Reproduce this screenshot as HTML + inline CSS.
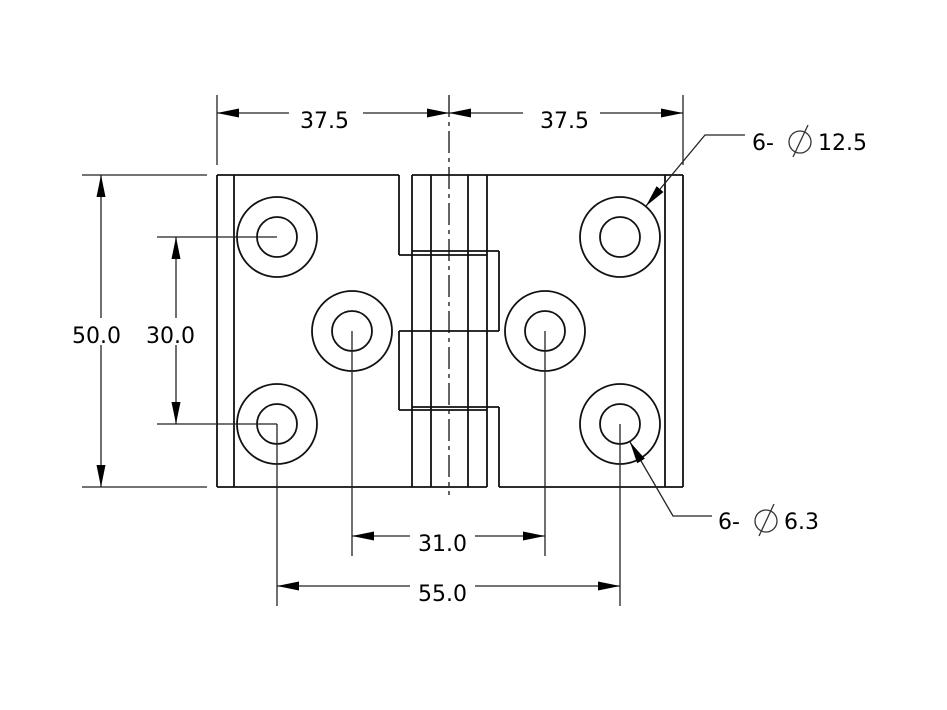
<!DOCTYPE html>
<html><head><meta charset="utf-8"><style>
html,body{margin:0;padding:0;background:#fff;}
svg{display:block;}
text{font-family:"DejaVu Sans","Liberation Sans",sans-serif;font-size:22px;fill:#000;}
</style></head><body>
<svg width="947" height="710" viewBox="0 0 947 710" xmlns="http://www.w3.org/2000/svg">
<defs>
<marker id="a" viewBox="0 0 22 9" refX="22" refY="4.5" markerWidth="22" markerHeight="9" markerUnits="userSpaceOnUse" orient="auto-start-reverse"><path d="M0,0 L22,4.5 L0,9 Z" fill="#000"/></marker>
</defs>
<g stroke="#111" stroke-width="1.8" fill="none">
<line x1="217" y1="175" x2="217" y2="487"/>
<line x1="234" y1="175" x2="234" y2="487"/>
<line x1="217" y1="175" x2="399" y2="175"/>
<line x1="412" y1="175" x2="683" y2="175"/>
<line x1="217" y1="487" x2="487" y2="487"/>
<line x1="499" y1="487" x2="683" y2="487"/>
<line x1="665" y1="175" x2="665" y2="487"/>
<line x1="683" y1="175" x2="683" y2="487"/>
<line x1="399" y1="175" x2="399" y2="255"/>
<line x1="399" y1="331" x2="399" y2="410"/>
<line x1="412" y1="175" x2="412" y2="487"/>
<line x1="431" y1="175" x2="431" y2="487"/>
<line x1="468" y1="175" x2="468" y2="487"/>
<line x1="487" y1="175" x2="487" y2="487"/>
<line x1="499" y1="251" x2="499" y2="331"/>
<line x1="499" y1="407" x2="499" y2="487"/>
<line x1="412" y1="251" x2="499" y2="251"/>
<line x1="399" y1="255" x2="487" y2="255"/>
<line x1="399" y1="331" x2="499" y2="331"/>
<line x1="412" y1="407" x2="499" y2="407"/>
<line x1="399" y1="410" x2="487" y2="410"/>
<line x1="449" y1="95" x2="449" y2="495" stroke-width="1.3" stroke-dasharray="22,5,4,5"/>
<circle cx="277" cy="237" r="40"/><circle cx="277" cy="237" r="20"/>
<circle cx="277" cy="424" r="40"/><circle cx="277" cy="424" r="20"/>
<circle cx="352" cy="331" r="40"/><circle cx="352" cy="331" r="20"/>
<circle cx="545" cy="331" r="40"/><circle cx="545" cy="331" r="20"/>
<circle cx="620" cy="237" r="40"/><circle cx="620" cy="237" r="20"/>
<circle cx="620" cy="424" r="40"/><circle cx="620" cy="424" r="20"/>
</g>
<g stroke="#222" stroke-width="1.3" fill="none">
<line x1="217" y1="95" x2="217" y2="165"/>
<line x1="683" y1="95" x2="683" y2="165"/>
<line x1="82" y1="175" x2="207" y2="175"/>
<line x1="82" y1="487" x2="207" y2="487"/>
<line x1="157" y1="237" x2="277" y2="237"/>
<line x1="157" y1="424" x2="277" y2="424"/>
<line x1="352" y1="331" x2="352" y2="556"/>
<line x1="545" y1="331" x2="545" y2="556"/>
<line x1="277" y1="424" x2="277" y2="606"/>
<line x1="620" y1="424" x2="620" y2="606"/>
<line x1="289" y1="113" x2="217" y2="113" marker-end="url(#a)"/>
<line x1="363" y1="113" x2="449" y2="113" marker-end="url(#a)"/>
<line x1="523" y1="113" x2="449" y2="113" marker-end="url(#a)"/>
<line x1="600" y1="113" x2="683" y2="113" marker-end="url(#a)"/>
<line x1="101" y1="318" x2="101" y2="175" marker-end="url(#a)"/>
<line x1="101" y1="345" x2="101" y2="487" marker-end="url(#a)"/>
<line x1="176" y1="318" x2="176" y2="237" marker-end="url(#a)"/>
<line x1="176" y1="345" x2="176" y2="424" marker-end="url(#a)"/>
<line x1="410" y1="536" x2="352" y2="536" marker-end="url(#a)"/>
<line x1="475" y1="536" x2="545" y2="536" marker-end="url(#a)"/>
<line x1="410" y1="586" x2="277" y2="586" marker-end="url(#a)"/>
<line x1="475" y1="586" x2="620" y2="586" marker-end="url(#a)"/>
<polyline points="745,135 705,135 646,206" marker-end="url(#a)"/>
<polyline points="712,516 673,516 630,442" marker-end="url(#a)"/>
</g>
<text x="300" y="128">37.5</text>
<text x="540" y="128">37.5</text>
<text x="72" y="343">50.0</text>
<text x="146" y="343">30.0</text>
<text x="418" y="551">31.0</text>
<text x="418" y="601">55.0</text>
<text x="752" y="150">6-</text>
<text x="718" y="529">6-</text>
<g stroke="#333" stroke-width="1.3" fill="none">
<circle cx="800" cy="142" r="11"/><line x1="793" y1="157" x2="808" y2="125"/>
<circle cx="766" cy="521" r="11"/><line x1="759" y1="536" x2="774" y2="504"/>
</g>
<text x="818" y="150">12.5</text>
<text x="784" y="529">6.3</text>
</svg>
</body></html>
